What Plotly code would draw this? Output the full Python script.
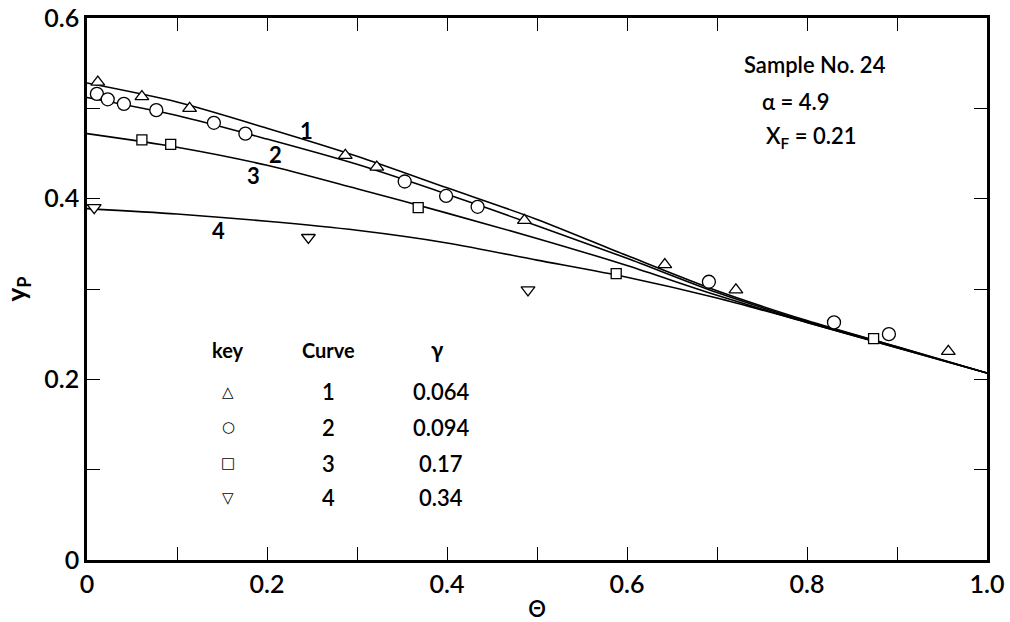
import plotly.graph_objects as go

# ---- data ----
# fitted curves (theta, yP)
curve_x = [0.0, 0.1, 0.2, 0.3, 0.4, 0.5, 0.6, 0.7, 0.8, 0.9, 1.0]
curve1_y = [0.528, 0.507, 0.478, 0.447, 0.412, 0.377, 0.337, 0.298, 0.265, 0.236, 0.207]
curve2_y = [0.512, 0.492, 0.466, 0.438, 0.405, 0.370, 0.334, 0.296, 0.264, 0.236, 0.207]
curve3_y = [0.472, 0.457, 0.437, 0.411, 0.384, 0.356, 0.326, 0.293, 0.263, 0.235, 0.207]
curve4_y = [0.389, 0.383, 0.375, 0.365, 0.351, 0.332, 0.313, 0.290, 0.263, 0.235, 0.207]

# measured points
tri_x = [0.012, 0.061, 0.114, 0.287, 0.322, 0.486, 0.642, 0.721, 0.957]
tri_y = [0.529, 0.513, 0.500, 0.448, 0.435, 0.376, 0.327, 0.299, 0.231]
circ_x = [0.011, 0.023, 0.041, 0.077, 0.141, 0.176, 0.353, 0.399, 0.434, 0.691, 0.830, 0.891]
circ_y = [0.516, 0.510, 0.505, 0.498, 0.484, 0.472, 0.419, 0.403, 0.391, 0.308, 0.263, 0.250]
sq_x = [0.061, 0.093, 0.368, 0.588, 0.874]
sq_y = [0.465, 0.460, 0.390, 0.317, 0.245]
dtri_x = [0.008, 0.246, 0.490]
dtri_y = [0.390, 0.357, 0.299]

curve_names = ["1", "2", "3", "4"]
gamma_vals = ["0.064", "0.094", "0.17", "0.34"]
key_symbols = ["\u25b3", "\u25cb", "\u25a1", "\u25bd"]

FONT = "Lato"
W = 600
fig = go.Figure()

for cy in [curve1_y, curve2_y, curve3_y, curve4_y]:
    fig.add_trace(go.Scatter(x=curve_x, y=cy, mode="lines",
                             line=dict(color="black", width=1.6, shape="spline", smoothing=0.8),
                             showlegend=False, hoverinfo="skip"))

def pts(x, y, sym, size):
    fig.add_trace(go.Scatter(x=x, y=y, mode="markers", showlegend=False,
                             marker=dict(symbol=sym, size=size, color="white",
                                         line=dict(color="black", width=1.3))))

pts(tri_x, tri_y, "triangle-up", 12)
pts(circ_x, circ_y, "circle", 13)
pts(sq_x, sq_y, "square", 10)
pts(dtri_x, dtri_y, "triangle-down", 12)

def f(size, family=FONT, weight=W):
    return dict(family=family, size=size, color="black", weight=weight)

ann = []
# curve labels
for name, (lx, ly) in zip(curve_names, [(0.244, 0.476), (0.209, 0.449), (0.185, 0.426), (0.146, 0.365)]):
    ann.append(dict(x=lx, y=ly, text=name, showarrow=False, font=f(22, weight=700)))

# key table
hdr_y = 0.2325
row_y = [0.186, 0.147, 0.107, 0.069]
col_x = [0.157, 0.268, 0.389]
ann.append(dict(x=col_x[0], y=hdr_y, text="key", showarrow=False, font=f(20, weight=700)))
ann.append(dict(x=col_x[1], y=hdr_y, text="Curve", showarrow=False, font=f(20, weight=700)))
ann.append(dict(x=col_x[2], y=hdr_y, text="\u03b3", showarrow=False, font=f(22, weight=700)))
for sym, nm, g, ry in zip(key_symbols, curve_names, gamma_vals, row_y):
    ann.append(dict(x=col_x[0], y=ry, text=sym, showarrow=False, font=f(15, family="DejaVu Sans", weight=400)))
    ann.append(dict(x=col_x[1], y=ry, text=nm, showarrow=False, font=f(22)))
    ann.append(dict(x=col_x[2] + 0.004, y=ry, text=g, showarrow=False, font=f(22)))

# sample info
ann.append(dict(x=0.728, y=0.549, xanchor="left", text="Sample No. 24", showarrow=False, font=f(22)))
ann.append(dict(x=0.748, y=0.508, xanchor="left", text="\u03b1 = 4.9", showarrow=False, font=f(22)))
ann.append(dict(x=0.752, y=0.468, xanchor="left", text="X<sub>F</sub> = 0.21", showarrow=False, font=f(22)))

axis_common = dict(ticks="inside", ticklen=13, tickwidth=1.3, tickcolor="black",
                   showline=True, linewidth=2.5, linecolor="black", mirror="ticks",
                   showgrid=False, zeroline=False, tickfont=f(25), automargin=False)

fig.update_layout(
    width=1010, height=622,
    margin=dict(l=87, r=23, t=18, b=62),
    paper_bgcolor="white", plot_bgcolor="white",
    annotations=ann,
    xaxis=dict(range=[0, 1.0], tick0=0, dtick=0.2, tickformat=".1f",
               minor=dict(dtick=0.1, ticks="inside", ticklen=13, tickwidth=1.3, tickcolor="black", showgrid=False),
               title=dict(text="\u0398", font=f(22)), **axis_common),
    yaxis=dict(range=[0, 0.6], tick0=0, dtick=0.2, tickformat=".1f",
               minor=dict(dtick=0.1, ticks="inside", ticklen=13, tickwidth=1.3, tickcolor="black", showgrid=False),
               title=dict(text="y<sub>P</sub>", font=f(26, weight=700)), **axis_common),
)
fig.update_xaxes(labelalias={"0.0": "0"})
fig.update_yaxes(labelalias={"0.0": "0"})

fig.write_html("out.html")
